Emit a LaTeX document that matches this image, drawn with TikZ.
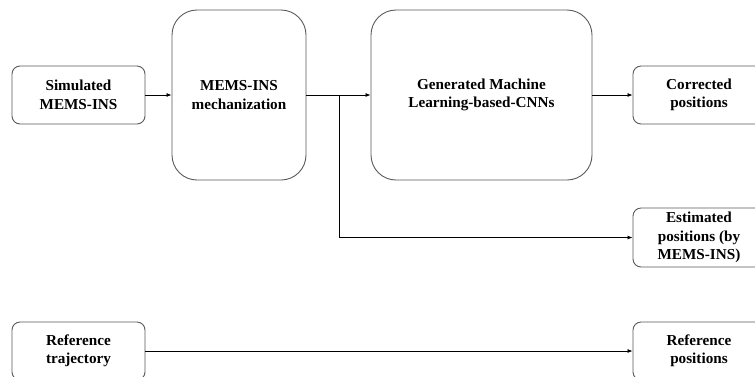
\documentclass[tikz,border=0pt]{standalone}
\usepackage{fontspec}
\setmainfont{Liberation Serif}
\usetikzlibrary{arrows.meta}
\definecolor{boxgray}{HTML}{5A5A5A}
\begin{document}
\begin{tikzpicture}[x=1pt,y=-1pt,
  box/.style={draw=boxgray, line width=0.9pt, rounded corners=8pt, align=center,
    font=\fontsize{15.2}{18.5}\selectfont\bfseries, inner sep=0pt,
    minimum width=133pt, minimum height=58pt},
  big/.style={box, rounded corners=25pt, minimum height=170pt},
  arr/.style={-{Latex[length=5pt,width=4pt]}, line width=0.8pt}]
\useasboundingbox (0,0) rectangle (755,376);
\clip (0,0) rectangle (755,376);
\fill[white] (0,0) rectangle (755,376);
\node[box] (sim) at (78.5,95) {Simulated\\MEMS-INS};
\node[big, minimum width=134pt] (mech) at (239,95) {MEMS-INS\\mechanization};
\node[big, minimum width=221pt] (gen) at (481.5,95) {Generated Machine\\Learning-based-CNNs};
\node[box, minimum width=132pt] (corr) at (699,95) {Corrected\\positions};
\node[box, minimum width=132pt, minimum height=59pt] (est) at (699,237.5) {Estimated\\positions (by\\MEMS-INS)};
\node[box] (reft) at (78.5,351) {Reference\\trajectory};
\node[box, minimum width=132pt] (refp) at (699,351) {Reference\\positions};
\coordinate (br) at (339,95);
\draw[arr] (sim) -- (mech);
\draw[arr] (mech) -- (gen);
\draw[arr] (gen) -- (corr);
\draw[arr] (br) |- (est.west);
\draw[arr] (reft) -- (refp);
\end{tikzpicture}
\end{document}
